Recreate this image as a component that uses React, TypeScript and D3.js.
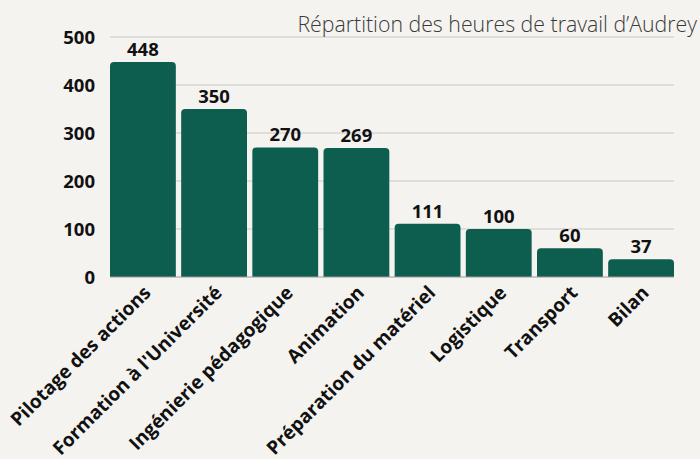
import React from "react";
import * as d3 from "d3";

const categories = [
  "Pilotage des actions",
  "Formation à l'Université",
  "Ingénierie pédagogique",
  "Animation",
  "Préparation du matériel",
  "Logistique",
  "Transport",
  "Bilan",
];
const hours = [448, 350, 270, 269, 111, 100, 60, 37];
const yTicks = [0, 100, 200, 300, 400, 500];
const title = "Répartition des heures de travail d’Audrey";

const W = 700;
const H = 459;
const FONT = "'Open Sans', 'Noto Sans', sans-serif";

function topRoundedRect(x: number, y: number, w: number, h: number, r: number) {
  const rr = Math.min(r, h, w / 2);
  const p = d3.path();
  p.moveTo(x, y + h);
  p.lineTo(x, y + rr);
  p.quadraticCurveTo(x, y, x + rr, y);
  p.lineTo(x + w - rr, y);
  p.quadraticCurveTo(x + w, y, x + w, y + rr);
  p.lineTo(x + w, y + h);
  p.closePath();
  return p.toString();
}

export default function App() {
  const x = d3.scaleBand<string>().domain(categories).range([110, 674]).paddingInner(0.075).paddingOuter(0);
  const y = d3.scaleLinear().domain([0, 500]).range([277, 37]);

  return (
    <svg width={W} height={H} style={{ position: "absolute", left: 0, top: 0, background: "#f4f3ef" }}>
      <rect x={0} y={0} width={W} height={H} fill="#f4f3ef" />
      {yTicks.filter((t) => t > 0).map((t) => (
        <line key={t} x1={110} x2={674} y1={y(t)} y2={y(t)} stroke="#c9c9c6" strokeWidth={1.2} />
      ))}
      <text x={697} y={32} textAnchor="end" fontFamily={FONT} fontWeight={300} fontSize={21.3} fill="#3a3a3a">
        {title}
      </text>
      {categories.map((c, i) => {
        const bx = x(c)!;
        const bw = x.bandwidth();
        const by = y(hours[i]);
        return (
          <g key={c}>
            <path d={topRoundedRect(bx, by, bw, y(0) - by, 4)} fill="#0e5e50" />
            <text x={bx + bw / 2} y={by - 6} textAnchor="middle" fontFamily={FONT} fontWeight={700} fontSize={18.5} fill="#111">
              {hours[i]}
            </text>
            <text
              transform={`translate(${bx + bw / 2 + 9},${y(0) + 17}) rotate(-45)`}
              textAnchor="end"
              fontFamily={FONT}
              fontWeight={700}
              fontSize={19}
              fill="#111"
            >
              {c}
            </text>
          </g>
        );
      })}
      <line x1={110} x2={674} y1={y(0)} y2={y(0)} stroke="#9a9a98" strokeWidth={1.2} />
      {yTicks.map((t) => (
        <text key={t} x={95} y={y(t) + 7} textAnchor="end" fontFamily={FONT} fontWeight={700} fontSize={18.5} fill="#111">
          {t}
        </text>
      ))}
    </svg>
  );
}
